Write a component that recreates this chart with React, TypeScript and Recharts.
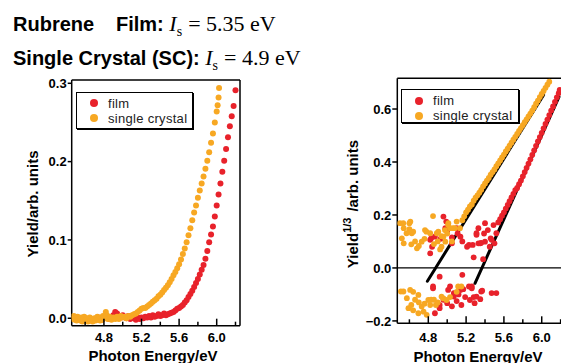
import { ScatterChart, Scatter, XAxis, YAxis, ReferenceLine, Legend } from "recharts"

const FONT = "'Liberation Sans', Arial, sans-serif"
const SERIF = "'Liberation Serif', 'Times New Roman', serif"
const RED = "#e8222b"
const ORANGE = "#f7a823"

const seriesNames = ["film", "single crystal"]
const energyTicks = [4.6, 4.8, 5.0, 5.2, 5.4, 5.6, 5.8, 6.0, 6.2]
const energyLabels = [4.8, 5.2, 5.6, 6.0]
const yieldTicks = [0, 0.1, 0.2, 0.3]
const cubeTicks = [-0.2, 0, 0.2, 0.4, 0.6]

// left panel: yield vs photon energy  [eV, yield]
const filmYield = [
  [4.74, 0.001], [4.78, -0.002], [4.82, 0.003], [4.86, -0.001], [4.9, 0.004], [4.92, 0.008], [4.94, 0.006],
  [4.96, 0.003], [4.98, 0.001], [5.0, 0.004], [5.02, 0.002], [5.04, 0.0], [5.06, 0.003], [5.08, -0.001],
  [5.1, 0.002], [5.12, 0.0], [5.14, -0.002], [5.16, 0.001], [5.18, -0.001], [5.2, 0.001], [5.22, 0.0],
  [5.24, 0.002], [5.26, 0.001], [5.28, 0.003], [5.3, 0.001], [5.32, 0.004], [5.34, 0.002], [5.36, 0.003],
  [5.38, 0.005], [5.4, 0.003], [5.42, 0.004], [5.44, 0.006], [5.46, 0.004], [5.48, 0.005], [5.5, 0.006],
  [5.52, 0.007], [5.54, 0.008], [5.56, 0.01], [5.58, 0.012], [5.6, 0.013], [5.62, 0.015], [5.64, 0.017],
  [5.66, 0.02], [5.68, 0.023], [5.7, 0.027], [5.72, 0.031], [5.74, 0.035], [5.76, 0.04], [5.78, 0.045],
  [5.8, 0.05], [5.82, 0.056], [5.84, 0.062], [5.86, 0.068], [5.88, 0.076], [5.9, 0.086], [5.92, 0.097],
  [5.94, 0.107], [5.96, 0.117], [5.98, 0.13], [6.0, 0.144], [6.02, 0.158], [6.04, 0.172], [6.06, 0.187],
  [6.08, 0.201], [6.1, 0.216], [6.12, 0.231], [6.14, 0.245], [6.16, 0.258], [6.18, 0.271], [6.2, 0.291],
]

const scYield = [
  [4.46, 0.002], [4.47, -0.001], [4.48, 0.003], [4.49, -0.002], [4.5, 0.001], [4.51, -0.003], [4.52, 0.002],
  [4.53, -0.001], [4.54, 0.0], [4.55, -0.003], [4.56, 0.001], [4.57, -0.004], [4.58, -0.001], [4.59, 0.002],
  [4.6, -0.003], [4.61, -0.002], [4.62, 0.0], [4.63, -0.004], [4.64, -0.002], [4.65, 0.001], [4.66, -0.003],
  [4.67, -0.001], [4.68, -0.004], [4.69, -0.002], [4.7, 0.0], [4.71, -0.003], [4.72, -0.001], [4.73, 0.002],
  [4.74, -0.002], [4.75, 0.0], [4.76, -0.003], [4.77, 0.001], [4.78, -0.002], [4.79, 0.003], [4.8, 0.0],
  [4.82, 0.008], [4.83, 0.004], [4.84, -0.001], [4.86, 0.002], [4.88, -0.002], [4.9, 0.001], [4.92, -0.001],
  [4.94, 0.002], [4.96, -0.001], [4.98, 0.003], [5.0, 0.001], [5.02, 0.002], [5.04, 0.0], [5.06, 0.003],
  [5.08, 0.002], [5.1, 0.004], [5.12, 0.005], [5.14, 0.006], [5.16, 0.008], [5.18, 0.01], [5.2, 0.012],
  [5.22, 0.013], [5.24, 0.013], [5.26, 0.015], [5.28, 0.017], [5.3, 0.019], [5.32, 0.021], [5.34, 0.023],
  [5.36, 0.025], [5.38, 0.028], [5.4, 0.03], [5.42, 0.033], [5.44, 0.036], [5.46, 0.039], [5.48, 0.042],
  [5.5, 0.046], [5.52, 0.05], [5.54, 0.055], [5.56, 0.059], [5.58, 0.064], [5.6, 0.069], [5.62, 0.075],
  [5.64, 0.082], [5.66, 0.089], [5.68, 0.097], [5.7, 0.106], [5.72, 0.115], [5.74, 0.125], [5.76, 0.135],
  [5.78, 0.144], [5.8, 0.154], [5.82, 0.163], [5.84, 0.172], [5.86, 0.181], [5.88, 0.191], [5.9, 0.201],
  [5.92, 0.212], [5.94, 0.224], [5.96, 0.236], [5.98, 0.25], [6.0, 0.264], [6.01, 0.272], [6.02, 0.282],
  [6.025, 0.294],
]

// right panel: yield^(1/3) vs photon energy
const filmCubeNoise = [
  [4.82, 0.055], [4.82, 0.106], [4.84, 0.08], [4.83, 0.112], [4.87, 0.118], [4.96, 0.194], [4.99, 0.175],
  [4.98, 0.15], [5.05, 0.093], [5.05, 0.115], [5.1, 0.15], [5.11, 0.13], [5.14, 0.118], [5.21, 0.08],
  [5.23, 0.087], [5.27, 0.087], [5.28, 0.04], [5.31, 0.125], [5.31, 0.131], [5.33, 0.15], [5.33, 0.093],
  [5.35, 0.093], [5.38, 0.033], [5.36, 0.095], [5.4, 0.099], [5.4, 0.169], [5.39, 0.13], [5.43, 0.143],
  [5.46, 0.112], [5.45, 0.08], [5.47, 0.106], [5.49, 0.162], [5.5, 0.093], [5.52, 0.131], [5.16, 0.1],
  [5.0, 0.14], [4.93, 0.11],
  [4.85, -0.07], [4.85, -0.077], [4.92, -0.033], [4.87, -0.171], [4.92, -0.14], [4.92, -0.152], [5.0, -0.133],
  [5.01, -0.083], [5.03, -0.07], [5.07, -0.108], [5.07, -0.095], [5.1, -0.125], [5.14, -0.083], [5.16, -0.026],
  [5.17, -0.08], [5.19, -0.11], [5.24, -0.121], [5.23, -0.07], [5.26, -0.07], [5.26, -0.077], [5.28, -0.11],
  [5.29, -0.133], [5.31, -0.108], [5.35, -0.118], [5.36, -0.089], [5.37, -0.086], [5.47, -0.095], [5.52, -0.095],
  [5.05, -0.145], [5.15, -0.14], [4.96, -0.12], [5.12, -0.1],
]

const filmCubeRise = [
  [5.54, 0.172], [5.56, 0.184], [5.58, 0.197], [5.6, 0.21], [5.62, 0.224], [5.64, 0.238], [5.66, 0.252],
  [5.68, 0.266], [5.7, 0.28], [5.72, 0.294], [5.74, 0.302], [5.76, 0.316], [5.78, 0.33], [5.8, 0.346],
  [5.82, 0.362], [5.84, 0.378], [5.86, 0.394], [5.88, 0.41], [5.9, 0.427], [5.92, 0.444], [5.94, 0.461],
  [5.96, 0.478], [5.98, 0.494], [6.0, 0.51], [6.02, 0.527], [6.04, 0.544], [6.06, 0.56], [6.08, 0.577],
  [6.1, 0.594], [6.12, 0.61], [6.14, 0.627], [6.16, 0.644], [6.18, 0.66], [6.19, 0.672],
]

const scCubeNoise = [
  [4.5, 0.169], [4.535, 0.169], [4.54, 0.15], [4.6, 0.169], [4.61, 0.175], [4.6, 0.146], [4.52, 0.112],
  [4.57, 0.131], [4.625, 0.131], [4.64, 0.137], [4.54, 0.093], [4.62, 0.089], [4.66, 0.1], [4.68, 0.074],
  [4.7, 0.083], [4.73, 0.099], [4.765, 0.143], [4.76, 0.11], [4.78, 0.137], [4.82, 0.131], [4.85, 0.196],
  [4.86, 0.09], [4.89, 0.131], [4.906, 0.137], [4.9, 0.1], [4.925, 0.07], [4.94, 0.08], [4.94, 0.12],
  [4.96, 0.118], [4.976, 0.143], [4.98, 0.099], [5.0, 0.13], [5.01, 0.162], [5.012, 0.169], [5.03, 0.15],
  [5.05, 0.1], [5.06, 0.15], [5.08, 0.15], [5.1, 0.175], [5.135, 0.15],
  [4.51, -0.089], [4.537, -0.089], [4.573, -0.114], [4.59, -0.152], [4.608, -0.083], [4.62, -0.14],
  [4.64, -0.09], [4.64, -0.16], [4.66, -0.12], [4.695, -0.102], [4.695, -0.171], [4.7, -0.13], [4.73, -0.146],
  [4.75, -0.165], [4.76, -0.135], [4.783, -0.177], [4.8, -0.121], [4.82, -0.14], [4.83, -0.12], [4.86, -0.12],
  [4.88, -0.14], [4.9, -0.13], [4.94, -0.108], [4.96, -0.115], [4.994, -0.121], [5.03, -0.11], [5.1, -0.09],
  [5.116, -0.07], [5.15, -0.07],
]

const scCubeRise = [
  [5.16, 0.18], [5.18, 0.195], [5.2, 0.21], [5.22, 0.22], [5.24, 0.232], [5.26, 0.24], [5.28, 0.254],
  [5.3, 0.265], [5.32, 0.274], [5.34, 0.284], [5.36, 0.295], [5.38, 0.308], [5.4, 0.319], [5.42, 0.33],
  [5.44, 0.34], [5.46, 0.352], [5.48, 0.362], [5.5, 0.372], [5.52, 0.384], [5.54, 0.395], [5.56, 0.406],
  [5.58, 0.417], [5.6, 0.428], [5.62, 0.44], [5.64, 0.45], [5.66, 0.462], [5.68, 0.473], [5.7, 0.484],
  [5.72, 0.495], [5.74, 0.506], [5.76, 0.517], [5.78, 0.528], [5.8, 0.539], [5.82, 0.55], [5.84, 0.561],
  [5.86, 0.572], [5.88, 0.583], [5.9, 0.594], [5.92, 0.607], [5.94, 0.62], [5.96, 0.632], [5.98, 0.645],
  [6.0, 0.657], [6.02, 0.668], [6.04, 0.68], [6.06, 0.692], [6.08, 0.703],
]

// linear fits (threshold lines)
const filmFit = [[5.294, -0.058], [6.183, 0.646]]
const scFit = [[4.79, -0.05], [6.02, 0.653]]

const LEFT_X = [4.457, 6.248]
const LEFT_Y = [-0.0095, 0.3042]
const RIGHT_X = [4.472, 6.204]
const RIGHT_Y = [-0.209, 0.716]

const toPoints = (rows: number[][]) => rows.map(([x, y]) => ({ x, y }))
const fmt = (v: number) => v.toFixed(1).replace("-", "\u2212")

const dot = (r: number) => (p: any) => <circle cx={p.cx} cy={p.cy} r={r} fill={p.fill} />

function EnergyTick({ x, y, payload, dy }: any) {
  const major = energyLabels.some((v) => Math.abs(v - payload.value) < 1e-6)
  return (
    <g>
      <line x1={x} x2={x} y1={y} y2={y - (major ? 7 : 4)} stroke="#000" strokeWidth={1.5} />
      {major && (
        <text x={x} y={y + dy} textAnchor="middle" fill="#000" fontSize={13} fontWeight={700} fontFamily={FONT}>
          {payload.value.toFixed(1)}
        </text>
      )}
    </g>
  )
}

function LegendBox({ payload, width, height, gap }: any) {
  return (
    <div
      style={{
        boxSizing: "border-box",
        width,
        height,
        border: "1.5px solid #000",
        boxShadow: "1px 1px 0 #000",
        background: "#fff",
        padding: "3px 0 0 13px",
        fontFamily: FONT,
        fontSize: 13,
        color: "#222",
        overflow: "visible",
      }}
    >
      {(payload || []).map((item: any) => (
        <div key={item.value} style={{ display: "flex", alignItems: "center", height: gap, whiteSpace: "nowrap" }}>
          <span
            style={{ width: 8, height: 8, borderRadius: 4, background: item.color, marginRight: 10, flexShrink: 0 }}
          />
          <span style={{ letterSpacing: 0.3 }}>{item.value}</span>
        </div>
      ))}
    </div>
  )
}

const axisStroke = { stroke: "#000", strokeWidth: 1.5 }
const tickFont = { fill: "#000", fontSize: 13, fontWeight: 700, fontFamily: FONT }

function RotatedLabel({ cx, cy, children }: any) {
  return (
    <div
      style={{
        position: "absolute",
        left: cx,
        top: cy,
        transform: "translate(-50%, -50%) rotate(-90deg)",
        whiteSpace: "nowrap",
        fontFamily: FONT,
        fontSize: 15,
        fontWeight: 700,
        lineHeight: 1,
        color: "#000",
      }}
    >
      {children}
    </div>
  )
}

const serif = { fontFamily: SERIF, fontSize: 22, fontWeight: 400 }
function Is() {
  return (
    <span style={serif}>
      <i>I</i>
      <span style={{ fontSize: 14, position: "relative", top: 5, marginRight: 6 }}>s</span>
    </span>
  )
}

const titleStyle = {
  position: "absolute" as const,
  fontFamily: FONT,
  fontSize: 20,
  fontWeight: 700,
  lineHeight: "24px",
  whiteSpace: "nowrap" as const,
  color: "#000",
}

export default function App() {
  const filmLeft = toPoints(filmYield)
  const scLeft = toPoints(scYield)
  const filmRight = toPoints([...filmCubeNoise, ...filmCubeRise])
  const scRight = toPoints([...scCubeNoise, ...scCubeRise])

  return (
    <div
      style={{ position: "absolute", left: 0, top: 0, width: 561, height: 363, overflow: "hidden", background: "#fff" }}
    >
      <div style={{ ...titleStyle, left: 13, top: 12 }}>Rubrene</div>
      <div style={{ ...titleStyle, left: 116, top: 12 }}>
        Film: <Is />
        <span style={serif}>= 5.35 eV</span>
      </div>
      <div style={{ ...titleStyle, left: 13, top: 46 }}>
        Single Crystal (SC): <Is />
        <span style={serif}>= 4.9 eV</span>
      </div>

      <div style={{ position: "absolute", left: 0, top: 0 }}>
        <ScatterChart width={250} height={363} margin={{ top: 80, right: 10, bottom: 7.3, left: 31.7 }}>
          <XAxis
            type="number"
            dataKey="x"
            domain={LEFT_X}
            allowDataOverflow
            ticks={energyTicks}
            interval={0}
            height={30}
            tickSize={0}
            tickMargin={0}
            tickLine={false}
            axisLine={axisStroke}
            tick={(p: any) => <EnergyTick {...p} dy={16.6} />}
          />
          <YAxis
            type="number"
            dataKey="y"
            domain={LEFT_Y}
            allowDataOverflow
            ticks={yieldTicks}
            interval={0}
            width={40}
            tickSize={4}
            tickMargin={1}
            tickLine={axisStroke}
            axisLine={axisStroke}
            tick={tickFont}
            tickFormatter={fmt}
          />
          <ReferenceLine y={LEFT_Y[1]} ifOverflow="visible" {...axisStroke} />
          <ReferenceLine x={LEFT_X[1]} ifOverflow="visible" {...axisStroke} />
          <Legend
            layout="vertical"
            align="center"
            verticalAlign="middle"
            wrapperStyle={{ left: 76, top: 91.7, width: 117 }}
            content={(p: any) => <LegendBox {...p} width={117} height={37} gap={15} />}
          />
          <Scatter name={seriesNames[0]} data={filmLeft} fill={RED} shape={dot(3)} isAnimationActive={false} />
          <Scatter name={seriesNames[1]} data={scLeft} fill={ORANGE} shape={dot(3)} isAnimationActive={false} />
        </ScatterChart>
      </div>

      <div style={{ position: "absolute", left: 340, top: 0 }}>
        <ScatterChart width={221} height={363} margin={{ top: 78.3, right: 0, bottom: 9.7, left: 17.3 }}>
          <XAxis
            type="number"
            dataKey="x"
            domain={RIGHT_X}
            allowDataOverflow
            ticks={energyTicks}
            interval={0}
            height={30}
            tickSize={0}
            tickMargin={0}
            tickLine={false}
            axisLine={axisStroke}
            tick={(p: any) => <EnergyTick {...p} dy={19} />}
          />
          <YAxis
            type="number"
            dataKey="y"
            domain={RIGHT_Y}
            allowDataOverflow
            ticks={cubeTicks}
            interval={0}
            width={40}
            tickSize={5}
            tickMargin={1}
            tickLine={axisStroke}
            axisLine={axisStroke}
            tick={tickFont}
            tickFormatter={fmt}
          />
          <ReferenceLine y={RIGHT_Y[1]} ifOverflow="visible" {...axisStroke} />
          <ReferenceLine y={0} stroke="#000" strokeWidth={1.2} />
          <Legend
            layout="vertical"
            align="center"
            verticalAlign="middle"
            wrapperStyle={{ left: 61, top: 89.3, width: 118 }}
            content={(p: any) => <LegendBox {...p} width={118} height={34} gap={15} />}
          />
          <Scatter name={seriesNames[0]} data={filmRight} fill={RED} shape={dot(2.9)} isAnimationActive={false} />
          <Scatter name={seriesNames[1]} data={scRight} fill={ORANGE} shape={dot(2.9)} isAnimationActive={false} />
          <ReferenceLine segment={toPoints(scFit)} stroke="#000" strokeWidth={3} strokeLinecap="round" ifOverflow="visible" />
          <ReferenceLine segment={toPoints(filmFit)} stroke="#000" strokeWidth={3} strokeLinecap="round" ifOverflow="visible" />
        </ScatterChart>
      </div>

      <RotatedLabel cx={31.5} cy={204}>Yield/arb. units</RotatedLabel>
      <RotatedLabel cx={352} cy={203.5}>
        Yield<span style={{ fontSize: 11, position: "relative", top: -7 }}>1/3</span>
        <span style={{ marginLeft: 6 }}>/arb. units</span>
      </RotatedLabel>

      <div style={{ position: "absolute", left: 153, top: 347.5, transform: "translateX(-50%)", fontFamily: FONT, fontSize: 15, fontWeight: 700, lineHeight: 1, whiteSpace: "nowrap" }}>
        Photon Energy/eV
      </div>
      <div style={{ position: "absolute", left: 478, top: 348.5, transform: "translateX(-50%)", fontFamily: FONT, fontSize: 15, fontWeight: 700, lineHeight: 1, whiteSpace: "nowrap" }}>
        Photon Energy/eV
      </div>
    </div>
  )
}
